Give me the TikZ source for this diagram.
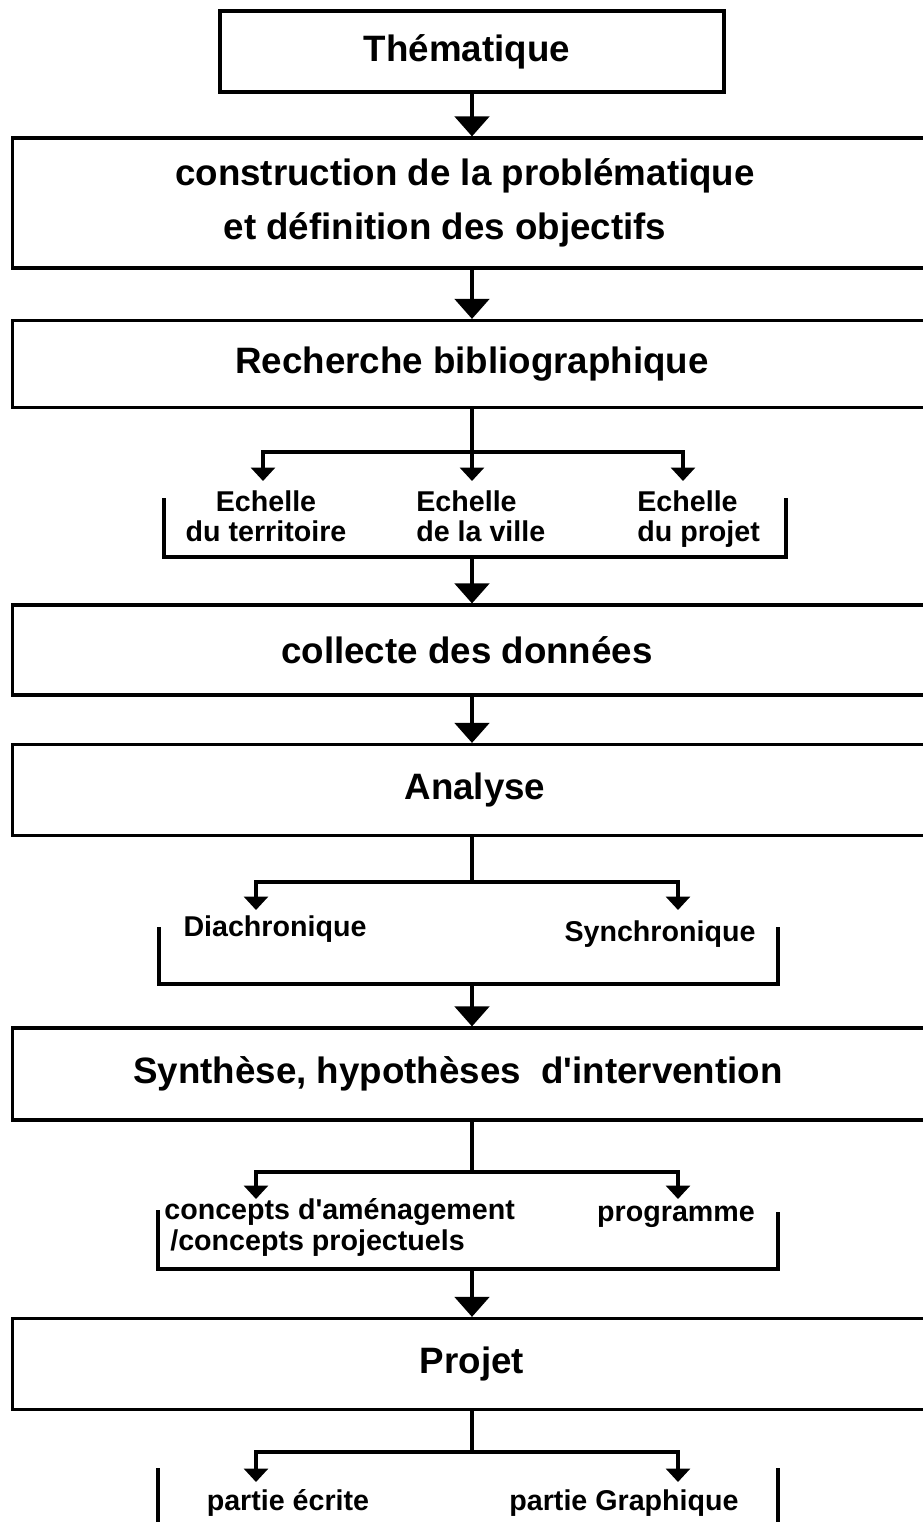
\documentclass[tikz,border=0pt]{standalone}
\usepackage{fontspec}
\setmainfont{Liberation Sans}
\usetikzlibrary{arrows.meta}

\begin{document}
\begin{tikzpicture}[x=0.02cm,y=-0.02cm,
	boite/.style={draw,line width=1.8pt,inner sep=0pt,align=center,font=\fontsize{20.9}{31}\selectfont\bfseries},
	large/.style={minimum width=18.4cm},
	soustitre/.style={inner sep=0pt,font=\fontsize{16.3}{17.5}\selectfont\bfseries},
	trait/.style={line width=1.9pt},
	fleche/.style={line width=2.7pt,-{Triangle[width=0.68cm,length=0.4cm]}},
	petitefleche/.style={line width=1.9pt,-{Triangle[width=0.48cm,length=0.27cm]}}]
	\path[use as bounding box,clip] (0,0) rectangle (923,1522);

	% etapes
	\node[boite,minimum width=10.08cm,minimum height=1.62cm] (them) at (472,51.5) {Thématique\hspace*{0.2cm}};
	\node[boite,large,minimum height=2.6cm] (prob) at (472,203) {construction de la problématique\hspace*{0.28cm}\\et définition des objectifs\hspace*{1.08cm}};
	\node[boite,large,minimum height=1.74cm] (rech) at (472,364) {Recherche bibliographique};
	\node[boite,large,minimum height=1.8cm] (coll) at (472,650) {collecte des données\hspace*{0.2cm}};
	\node[boite,large,minimum height=1.82cm] (anal) at (472,790) {\hspace*{0.12cm}Analyse};
	\node[boite,large,minimum height=1.84cm] (synt) at (472,1074) {Synthèse, hypothèses \ d\textquotesingle intervention\hspace*{0.56cm}};
	\node[boite,large,minimum height=1.82cm] (proj) at (472,1364) {Projet};

	% sous-etapes
	\node[soustitre,align=center,anchor=north] (terr) at (266,490) {Echelle\\du territoire};
	\node[soustitre,align=left,anchor=north west] (vill) at (416,490) {Echelle\\de la ville};
	\node[soustitre,align=left,anchor=north west] (pjt) at (637,490) {Echelle\\du projet};
	\node[soustitre] (diac) at (275,929) {Diachronique};
	\node[soustitre] (sync) at (660,934) {Synchronique};
	\node[soustitre,align=left,anchor=west] (conc) at (164,1227.5) {concepts d\textquotesingle aménagement\\\hspace*{0.12cm}/concepts projectuels};
	\node[soustitre] (prog) at (676,1217) {programme};
	\node[soustitre] (ecri) at (288,1503) {partie écrite};
	\node[soustitre] (grap) at (624,1503) {partie Graphique};

	% crochets
	\foreach \g/\l/\r/\hl/\hr/\bas in {g1/164/786/498/498/557, g2/159/778/927/927/984, g3/158/778/1210/1212/1269} {
		\draw[trait] (\l,\hl) |- (\r,\bas) -- (\r,\hr);
		\coordinate (\g) at (472,\bas);
	}
	\draw[trait] (158,1468) -- (158,1530);
	\draw[trait] (778,1468) -- (778,1530);

	% fleches principales
	\draw[fleche] (them) -- (prob);
	\draw[fleche] (prob) -- (rech);
	\draw[fleche] (g1) -- (coll);
	\draw[fleche] (coll) -- (anal);
	\draw[fleche] (g2) -- (synt);
	\draw[fleche] (g3) -- (proj);

	% embranchements
	\coordinate (f1) at (472,452);
	\draw[trait] (rech) -- (f1);
	\foreach \x/\n in {263/1,472/2,683/3} {
		\coordinate (f1-\n) at (\x,481);
		\draw[petitefleche] (f1) -| (f1-\n);
	}
	\foreach \b/\f/\y/\t in {anal/f2/882/910, synt/f3/1172/1199, proj/f4/1452/1482} {
		\coordinate (\f) at (472,\y);
		\draw[trait] (\b) -- (\f);
		\coordinate (\f-g) at (256,\t);
		\coordinate (\f-d) at (678,\t);
		\draw[petitefleche] (\f) -| (\f-g);
		\draw[petitefleche] (\f) -| (\f-d);
	}
\end{tikzpicture}
\end{document}
